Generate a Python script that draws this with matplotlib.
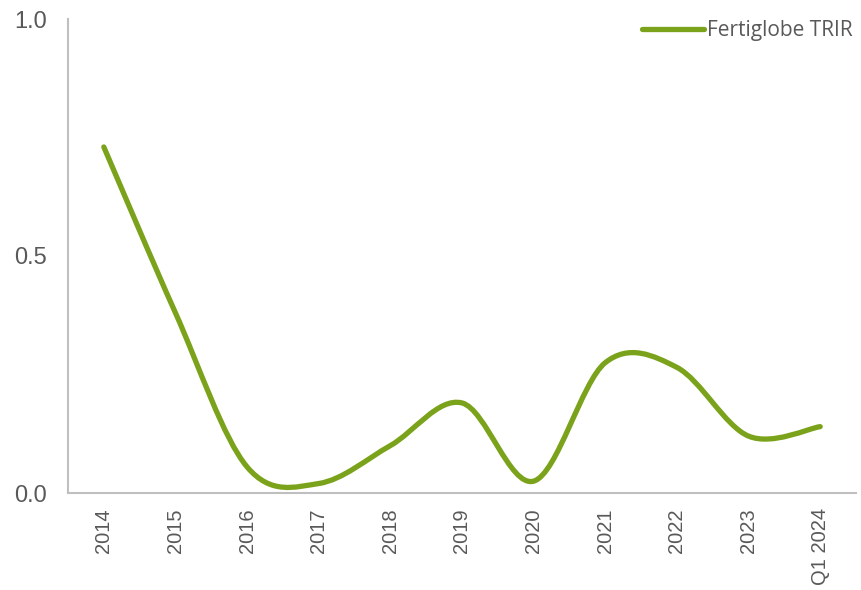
import matplotlib
matplotlib.use("Agg")
import matplotlib.pyplot as plt
import numpy as np
from matplotlib.path import Path
from matplotlib.patches import PathPatch
from matplotlib.lines import Line2D

categories = ["2014", "2015", "2016", "2017", "2018", "2019",
              "2020", "2021", "2022", "2023", "Q1 2024"]
trir = [0.73, 0.38, 0.055, 0.02, 0.10, 0.19, 0.025, 0.275, 0.265, 0.12, 0.14]

GREEN = "#7BA21B"
GREY_TEXT = "#595959"
GREY_AXIS = "#BFBFBF"


def smooth_path(xs, ys, tension=1.0 / 6):
    """Cubic Bezier path through every point (spreadsheet-style smoothed line)."""
    pts = np.column_stack([xs, ys]).astype(float)
    n = len(pts)
    verts = [pts[0]]
    codes = [Path.MOVETO]
    for i in range(n - 1):
        p0 = pts[i - 1] if i > 0 else pts[i]
        p1 = pts[i]
        p2 = pts[i + 1]
        p3 = pts[i + 2] if i + 2 < n else pts[i + 1]
        c1 = p1 + (p2 - p0) * tension
        c2 = p2 - (p3 - p1) * tension
        verts += [c1, c2, p2]
        codes += [Path.CURVE4] * 3
    return Path(verts, codes)


fig = plt.figure(figsize=(8.61, 5.90), dpi=100)
ax = fig.add_axes([68 / 861, 1 - 493 / 590, (856 - 68) / 861, (493 - 19) / 590])

x = np.arange(len(categories))
patch = PathPatch(smooth_path(x, trir), facecolor="none", edgecolor=GREEN,
                  lw=3.8, capstyle="round", joinstyle="round")
ax.add_patch(patch)

ax.set_xlim(-0.5, len(categories) - 0.5)
ax.set_ylim(0, 1.0)
ax.set_yticks([0.0, 0.5, 1.0])
ax.set_yticklabels(["0.0", "0.5", "1.0"])
ax.set_xticks(x)
ax.set_xticklabels(categories, rotation=90)

for lab in ax.get_yticklabels():
    lab.set_fontfamily("Liberation Sans")
    lab.set_fontsize(17)
    lab.set_color(GREY_TEXT)
for lab in ax.get_xticklabels():
    lab.set_fontfamily("Liberation Sans")
    lab.set_fontsize(14.5)
    lab.set_color(GREY_TEXT)

ax.tick_params(axis="both", length=0)
ax.tick_params(axis="y", pad=15)
ax.tick_params(axis="x", pad=11)

for side in ["top", "right"]:
    ax.spines[side].set_visible(False)
for side in ["left", "bottom"]:
    ax.spines[side].set_color(GREY_AXIS)
    ax.spines[side].set_linewidth(1.5)

handle = Line2D([], [], color=GREEN, lw=3.8, solid_capstyle="round")
leg = ax.legend([handle], ["Fertiglobe TRIR"], loc="upper right",
                bbox_to_anchor=(1.012, 1.024), frameon=False,
                handlelength=3.0, handletextpad=0.15, borderaxespad=0.2,
                prop={"family": "Open Sans", "size": 15})
for t in leg.get_texts():
    t.set_color(GREY_TEXT)

fig.savefig("out.png", dpi=100)
